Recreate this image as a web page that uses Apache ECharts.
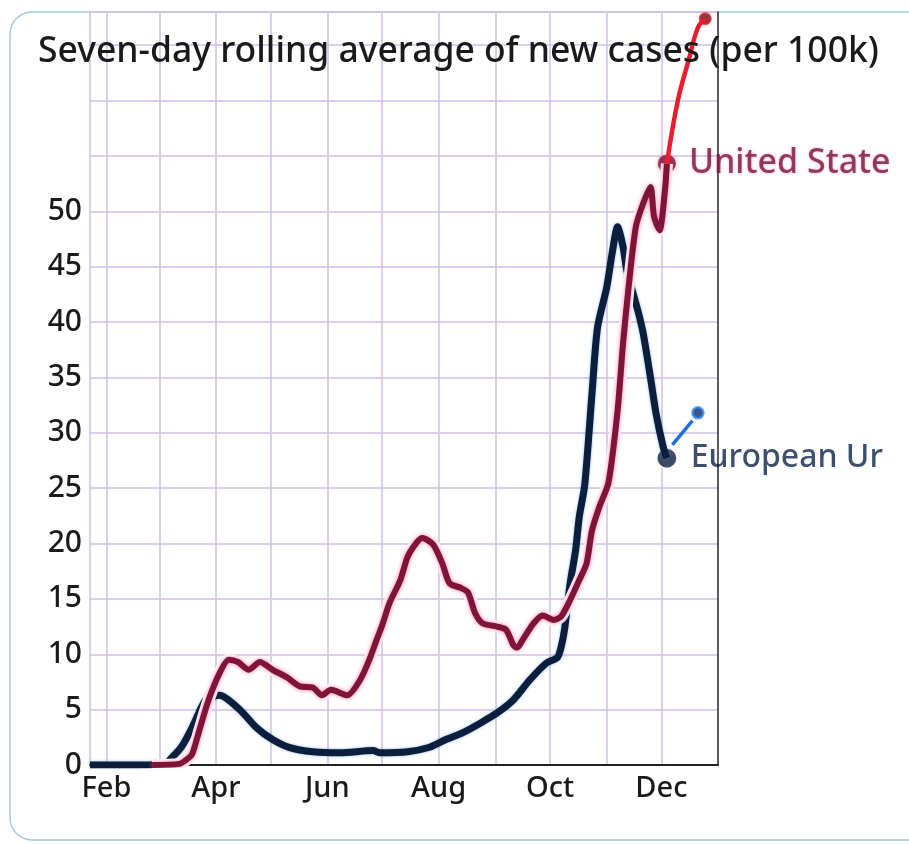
<!DOCTYPE html>
<html>
<head>
<meta charset="utf-8">
<script src="https://cdn.jsdelivr.net/npm/echarts@6/dist/echarts.min.js"></script>
<style>
html,body{margin:0;padding:0;background:#fff;}
#chart{width:909px;height:844px;}
</style>
</head>
<body>
<div id="chart"></div>
<script>
// ---- data ----
const monthNames = ['Jan','Feb','Mar','Apr','May','Jun','Jul','Aug','Sep','Oct','Nov','Dec'];
const yTickLabels = [0,5,10,15,20,25,30,35,40,45,50];

const euDates = ['2020-01-23','2020-02-15','2020-03-04','2020-03-08','2020-03-13','2020-03-19','2020-03-24','2020-03-27','2020-04-03','2020-04-14','2020-04-23','2020-05-02','2020-05-11','2020-05-24','2020-06-08','2020-06-26','2020-06-30','2020-07-15','2020-07-27','2020-08-05','2020-08-14','2020-08-24','2020-09-02','2020-09-11','2020-09-20','2020-09-29','2020-10-05','2020-10-07','2020-10-09','2020-10-12','2020-10-15','2020-10-17','2020-10-20','2020-10-24','2020-10-27','2020-11-01','2020-11-04','2020-11-07','2020-11-10','2020-11-12','2020-11-18','2020-11-21','2020-11-25','2020-11-28','2020-12-02','2020-12-04'];
const euValues = [0,0,0.1,0.7,1.6,3.4,5.2,6.0,6.3,5.0,3.4,2.3,1.6,1.2,1.1,1.3,1.1,1.2,1.6,2.3,2.9,3.8,4.7,5.9,7.7,9.2,9.7,10.6,12.3,16.4,19.4,22.4,25.3,33.6,39.5,43.1,46.2,48.6,46.8,44.7,41.1,39.0,35.0,31.8,28.7,27.7];

const usDates = ['2020-02-26','2020-03-12','2020-03-16','2020-03-19','2020-03-23','2020-03-28','2020-04-03','2020-04-08','2020-04-13','2020-04-19','2020-04-25','2020-05-02','2020-05-10','2020-05-17','2020-05-24','2020-05-29','2020-06-03','2020-06-12','2020-06-19','2020-06-24','2020-06-28','2020-07-01','2020-07-05','2020-07-11','2020-07-15','2020-07-20','2020-07-23','2020-07-29','2020-08-03','2020-08-07','2020-08-13','2020-08-17','2020-08-21','2020-08-25','2020-09-02','2020-09-07','2020-09-11','2020-09-13','2020-09-16','2020-09-22','2020-09-27','2020-10-03','2020-10-07','2020-10-12','2020-10-17','2020-10-21','2020-10-24','2020-10-28','2020-11-02','2020-11-07','2020-11-10','2020-11-13','2020-11-17','2020-11-21','2020-11-25','2020-11-27','2020-11-30','2020-12-03','2020-12-04'];
const usValues = [0,0.1,0.5,1.0,3.2,5.9,8.3,9.5,9.3,8.6,9.3,8.6,7.9,7.1,7.0,6.3,6.8,6.3,7.7,9.5,11.3,12.6,14.6,16.7,18.8,20.1,20.5,19.9,18.2,16.4,16.0,15.6,13.7,12.8,12.5,12.2,10.8,10.6,11.3,12.8,13.5,13.1,13.4,14.9,16.7,18.2,21.2,23.3,25.5,32.0,38.1,43.1,48.6,50.7,52.2,49.5,48.3,52.0,54.3];

// hand-drawn extensions on the print
const redDates = ['2020-12-04','2020-12-10','2020-12-16','2020-12-21','2020-12-25'];
const redValues = [54.3,60.0,63.7,66.6,67.4];
const blueDates = ['2020-12-07','2020-12-18','2020-12-21'];
const blueValues = [28.9,31.1,31.8];

const seriesNames = ['European Ur','United State'];

// ---- build ----
const zip = (d, v) => d.map((x, i) => [x, v[i]]);
const last = (d, v) => [[d[d.length - 1], v[v.length - 1]]];

const gridColor = '#d0bfe8';
const navy = '#0b1f3d';
const maroon = '#7e1538';
const ink = '#1a1a1a';
const font = 'Noto Sans';

const chart = echarts.init(document.getElementById('chart'), null, {renderer: 'canvas'});
chart.setOption({
  backgroundColor: '#ffffff',
  animation: false,
  textStyle: {fontFamily: font},
  title: {
    text: 'Seven-day rolling average of new cases (per 100k)',
    left: 33, top: 29,
    textStyle: {fontSize: 35.5, fontWeight: 500, color: ink, fontFamily: font}
  },
  graphic: [{
    type: 'rect', silent: true, z: -10,
    shape: {x: 10, y: 12, width: 940, height: 828, r: 22},
    style: {fill: 'none', stroke: '#a8c8e6', lineWidth: 1.5}
  }],
  grid: {left: 90, right: 191, top: 12, bottom: 79},
  xAxis: {
    type: 'time',
    min: '2020-01-23', max: '2021-01-01',
    splitNumber: 12,
    minInterval: 28 * 864e5, maxInterval: 31 * 864e5,
    axisLine: {show: true, lineStyle: {color: '#222', width: 2}},
    axisTick: {show: false},
    splitLine: {show: true, lineStyle: {color: gridColor, width: 1.5}},
    axisLabel: {
      fontSize: 29, fontWeight: 500, color: ink, margin: 9, hideOverlap: false,
      formatter: function (v) {
        const d = new Date(v);
        return d.getMonth() % 2 === 1 ? monthNames[d.getMonth()] : '';
      }
    }
  },
  yAxis: [{
    type: 'value', min: 0, max: 68, interval: 5,
    axisLine: {show: false}, axisTick: {show: false},
    splitLine: {show: true, lineStyle: {color: gridColor, width: 1.5}},
    axisLabel: {
      fontSize: 30, fontWeight: 500, color: ink, margin: 8,
      formatter: function (v) { return yTickLabels.indexOf(v) >= 0 ? String(v) : ''; }
    }
  }, {
    type: 'value', min: 0, max: 68, position: 'right',
    axisLine: {show: true, lineStyle: {color: '#333', width: 1.5}},
    axisTick: {show: false}, axisLabel: {show: false}, splitLine: {show: false}
  }],
  series: [
    {
      name: seriesNames[0], type: 'line', data: zip(euDates, euValues),
      showSymbol: false, smooth: 0.25,
      lineStyle: {color: navy, width: 7, shadowColor: 'rgba(60,140,230,0.6)', shadowBlur: 3}
    },
    {
      name: 'halo', type: 'line', data: zip(usDates, usValues),
      showSymbol: false, smooth: 0.25, silent: true,
      lineStyle: {color: '#ffffff', width: 12}
    },
    {
      name: seriesNames[1], type: 'line', data: zip(usDates, usValues),
      showSymbol: false, smooth: 0.25,
      lineStyle: {color: maroon, width: 6, shadowColor: 'rgba(255,60,130,0.7)', shadowBlur: 4}
    },
    {
      name: 'red', type: 'line', data: zip(redDates, redValues),
      showSymbol: false, smooth: 0.4,
      lineStyle: {color: '#ec1b2e', width: 4.5}
    },
    {
      name: 'redEnd', type: 'scatter', data: last(redDates, redValues),
      symbolSize: 11, itemStyle: {color: '#6a0c14', borderColor: '#ec1b2e', borderWidth: 2}
    },
    {
      name: 'blue', type: 'line', data: zip(blueDates.slice(0, 2), blueValues.slice(0, 2)),
      showSymbol: false,
      lineStyle: {color: '#1f6fe0', width: 3.5}
    },
    {
      name: 'blueEnd', type: 'scatter', data: last(blueDates, blueValues),
      symbolSize: 11, itemStyle: {color: '#0a2a6a', borderColor: '#2f8cff', borderWidth: 2.5}
    },
    {
      name: 'usEnd', type: 'scatter', data: last(usDates, usValues),
      symbolSize: 18, itemStyle: {color: maroon, shadowColor: 'rgba(255,60,130,0.7)', shadowBlur: 4},
      label: {show: true, position: 'right', distance: 13, formatter: seriesNames[1],
        fontSize: 34, fontWeight: 500, color: '#74163f', fontFamily: font,
        textShadowColor: 'rgba(255,80,150,0.6)', textShadowBlur: 3}
    },
    {
      name: 'euEnd', type: 'scatter', data: last(euDates, euValues),
      symbolSize: 20, itemStyle: {color: navy, borderColor: '#ffffff', borderWidth: 1.5},
      label: {show: true, position: 'right', distance: 13, formatter: seriesNames[0],
        fontSize: 32, fontWeight: 500, color: '#0d2347', fontFamily: font}
    }
  ]
});
</script>
</body>
</html>
